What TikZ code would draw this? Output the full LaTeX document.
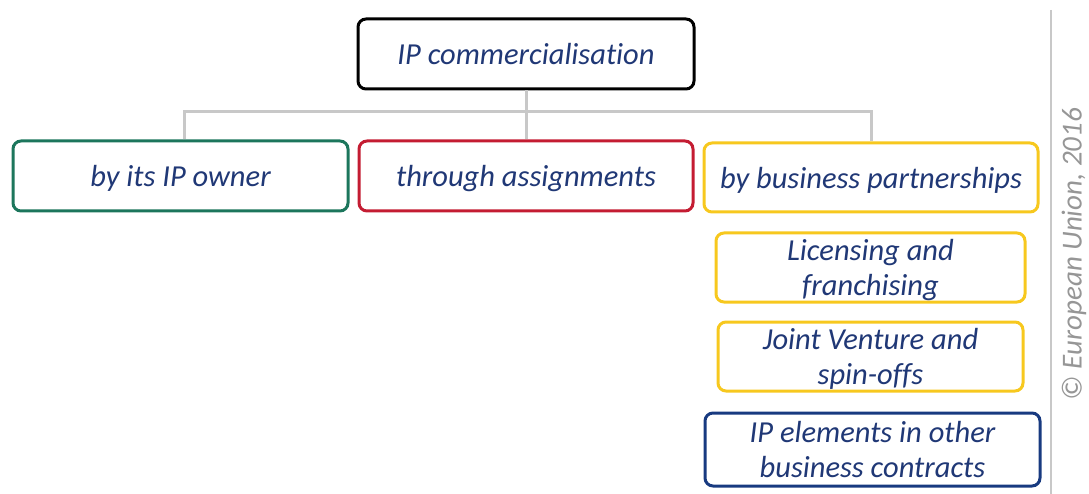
\documentclass[tikz,border=0pt]{standalone}
\usepackage{fontspec}
\setmainfont{Carlito}[Ligatures=NoCommon]
\definecolor{txtblue}{RGB}{32,56,118}
\definecolor{bxgreen}{RGB}{28,118,92}
\definecolor{bxred}{RGB}{196,28,50}
\definecolor{bxyellow}{RGB}{247,200,30}
\definecolor{bxblue}{RGB}{24,58,128}
\definecolor{linegray}{RGB}{200,200,200}
\definecolor{copygray}{RGB}{150,150,150}
\begin{document}
\begin{tikzpicture}[x=1pt,y=-1pt,
  box/.style={draw, line width=3pt, rounded corners=8pt, fill=white,
    text=txtblue, font=\fontsize{30.5}{35}\selectfont\itshape,
    align=center, inner sep=0pt, text depth=0pt},
  link/.style={draw=linegray, line width=3pt}]
\useasboundingbox (0,0) rectangle (1089,494);
% root and first level
\node[box, draw=black, minimum width=336pt, minimum height=70pt] (root) at (526,54) {IP commercialisation};
\node[box, draw=bxgreen, minimum width=335pt, minimum height=70pt] (owner) at (180.5,176) {by its IP owner};
\node[box, draw=bxred, minimum width=334pt, minimum height=70pt] (assign) at (526,176) {through assignments};
\node[box, draw=bxyellow, minimum width=334pt, minimum height=69pt] (partner) at (871,177.5) {by business partnerships};
% partnership forms
\node[box, draw=bxyellow, minimum width=309pt, minimum height=69pt] (licence) at (870.5,267.5) {Licensing and\\franchising};
\node[box, draw=bxyellow, minimum width=305pt, minimum height=69pt] (joint) at (870.5,356.5) {Joint Venture and\\spin-offs};
\node[box, draw=bxblue, minimum width=335pt, minimum height=73pt] (other) at (872.5,449.5) {IP elements in other\\business contracts};
% tree connectors
\coordinate (bar) at (526,112);
\draw[link] (root.south) -- (bar);
\draw[link] (owner.north -| 184,0) |- (bar) -| (partner.north);
\draw[link] (bar) -- (assign.north);
% copyright strip
\coordinate (sepTop) at (1051,10);
\coordinate (sepBot) at (1051,494);
\draw[draw=linegray, line width=2pt] (sepTop) -- (sepBot);
\node[rotate=90, text=copygray, font=\fontsize{29}{33}\selectfont\itshape] (copy) at (1074,254) {© European Union, 2016};
\end{tikzpicture}
\end{document}
